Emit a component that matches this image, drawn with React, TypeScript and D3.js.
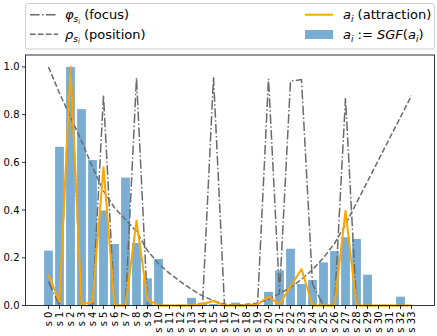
import React from "react";
import * as d3 from "d3";

// categories along the x axis
const labels = [
  "s 0", "s 1", "s 2", "s 3", "s 4", "s 5", "s 6", "s 7", "s 8", "s 9",
  "s 10", "s 11", "s 12", "s 13", "s 14", "s 15", "s 16", "s 17", "s 18", "s 19",
  "s 20", "s 21", "s 22", "s 23", "s 24", "s 25", "s 26", "s 27", "s 28", "s 29",
  "s 30", "s 31", "s 32", "s 33",
];

// a_i := SGF(a_i)  (bars)
const sgf = [
  0.23, 0.665, 1.0, 0.823, 0.61, 0.398, 0.258, 0.536, 0.262, 0.114,
  0.195, 0, 0, 0.032, 0.012, 0.006, 0, 0.012, 0.005, 0,
  0.057, 0.147, 0.238, 0.09, 0.107, 0.181, 0.228, 0.286, 0.279, 0.129,
  0, 0, 0.037, 0,
];

// a_i (attraction)
const attraction = [
  0.13, 0.015, 1.0, 0.005, 0.016, 0.58, 0.0, 0.0, 0.355, 0.025,
  0.0, 0, 0, 0, 0.006, 0.019, 0, 0, 0, 0.005,
  0.037, 0.005, 0.08, 0.153, 0, 0, 0, 0.397, 0, 0,
  0, 0, 0, 0,
];

// phi_{s_i} (focus)
const focus = [
  0.1, 0, 1.0, 0, 0, 0.88, 0, 0, 0.955, 0,
  0, 0, 0, 0, 0, 0.957, 0, 0, 0, 0,
  0.95, 0.05, 0.94, 0.947, 0.09, 0, 0, 0.87, 0, 0,
  0, 0, 0, 0,
];

// rho_{s_i} (position)
const position = [
  1.0, 0.89, 0.79, 0.69, 0.58, 0.48, 0.41, 0.36, 0.31, 0.23,
  0.175, 0.135, 0.1, 0.068, 0.04, 0.02, 0.006, 0.0, 0.005, 0.01,
  0.025, 0.05, 0.075, 0.11, 0.15, 0.2, 0.26, 0.34, 0.43, 0.52,
  0.61, 0.7, 0.79, 0.88,
];

const yTicks = [0.0, 0.2, 0.4, 0.6, 0.8, 1.0];

const W = 437;
const H = 336;
const plot = { left: 25.5, right: 434.5, top: 55, bottom: 305.5 };
const FONT = "DejaVu Sans, sans-serif";
const GRAY = "#6a6a6a";
const ORANGE = "#ffa500";
const BLUE = "#1f77b4";

// legend text sizes
const LF = 13;
const SUB = 9;
const SUBSUB = 6.5;

export default function App() {
  const n = labels.length;
  const barW = 0.8;
  const pad = 0.05 * (n - 1 + barW);
  const x = d3
    .scaleLinear()
    .domain([-barW / 2 - pad, n - 1 + barW / 2 + pad])
    .range([plot.left, plot.right]);
  const y = d3.scaleLinear().domain([0, 1.05]).range([plot.bottom, plot.top]);

  const line = d3
    .line<number>()
    .x((_, i) => x(i))
    .y((d) => y(d));

  const bw = x(barW) - x(0);

  return (
    <svg
      width={W}
      height={H}
      style={{ position: "absolute", left: 0, top: 0, background: "#fff" }}
      fontFamily={FONT}
    >
      {/* bars */}
      {sgf.map((v, i) => (
        <rect
          key={i}
          x={x(i) - bw / 2}
          y={y(v)}
          width={bw}
          height={y(0) - y(v)}
          fill={BLUE}
          fillOpacity={0.6}
        />
      ))}

      {/* lines */}
      <path
        d={line(position) ?? ""}
        fill="none"
        stroke={GRAY}
        strokeWidth={1.5}
        strokeDasharray="5.55 2.4"
      />
      <path
        d={line(focus) ?? ""}
        fill="none"
        stroke={GRAY}
        strokeWidth={1.5}
        strokeDasharray="9.6 2.4 1.5 2.4"
      />
      <path
        d={line(attraction) ?? ""}
        fill="none"
        stroke={ORANGE}
        strokeWidth={2}
        strokeLinejoin="round"
      />

      {/* frame */}
      <rect
        x={plot.left}
        y={plot.top}
        width={plot.right - plot.left}
        height={plot.bottom - plot.top}
        fill="none"
        stroke="#000"
        strokeWidth={0.8}
      />

      {/* y axis */}
      {yTicks.map((t) => (
        <g key={t}>
          <line
            x1={plot.left - 3.5}
            x2={plot.left}
            y1={y(t)}
            y2={y(t)}
            stroke="#000"
            strokeWidth={0.8}
          />
          <text
            x={plot.left - 6}
            y={y(t)}
            fontSize={10}
            textAnchor="end"
            dominantBaseline="central"
          >
            {t.toFixed(1)}
          </text>
        </g>
      ))}

      {/* x axis */}
      {labels.map((l, i) => (
        <g key={l}>
          <line
            x1={x(i)}
            x2={x(i)}
            y1={plot.bottom}
            y2={plot.bottom + 3.5}
            stroke="#000"
            strokeWidth={0.8}
          />
          <text
            transform={`translate(${x(i)},${plot.bottom + 6}) rotate(-90)`}
            fontSize={10}
            textAnchor="end"
            dominantBaseline="central"
          >
            {l}
          </text>
        </g>
      ))}

      {/* legend */}
      <rect
        x={25.5}
        y={3.5}
        width={409}
        height={45.5}
        rx={2.5}
        fill="#fff"
        fillOpacity={0.8}
        stroke="#d0d0d0"
        strokeWidth={1}
      />
      <g fontSize={LF}>
        <line x1={30} x2={58} y1={14.7} y2={14.7} stroke={GRAY} strokeWidth={1.5} strokeDasharray="9.6 2.4 1.5 2.4" />
        <text x={65} y={19.3}>
          <tspan fontStyle="italic">φ</tspan>
          <tspan fontStyle="italic" fontSize={SUB} dy={2.8}>s</tspan>
          <tspan fontStyle="italic" fontSize={SUBSUB} dy={1.5}>i</tspan>
          <tspan dy={-4.3}>{" (focus)"}</tspan>
        </text>

        <line x1={30} x2={58} y1={34.3} y2={34.3} stroke={GRAY} strokeWidth={1.5} strokeDasharray="5.55 2.4" />
        <text x={65} y={38.9}>
          <tspan fontStyle="italic">ρ</tspan>
          <tspan fontStyle="italic" fontSize={SUB} dy={2.8}>s</tspan>
          <tspan fontStyle="italic" fontSize={SUBSUB} dy={1.5}>i</tspan>
          <tspan dy={-4.3}>{" (position)"}</tspan>
        </text>

        <line x1={305} x2={333} y1={14.7} y2={14.7} stroke={ORANGE} strokeWidth={2} />
        <text x={343} y={19.3}>
          <tspan fontStyle="italic">a</tspan>
          <tspan fontStyle="italic" fontSize={SUB} dy={2.8}>i</tspan>
          <tspan dy={-2.8}>{" (attraction)"}</tspan>
        </text>

        <rect x={305} y={30} width={28} height={9} fill={BLUE} fillOpacity={0.6} />
        <text x={343} y={38.9}>
          <tspan fontStyle="italic">a</tspan>
          <tspan fontStyle="italic" fontSize={SUB} dy={2.8}>i</tspan>
          <tspan dy={-2.8}>{" := "}</tspan>
          <tspan fontStyle="italic">SGF</tspan>
          <tspan>(</tspan>
          <tspan fontStyle="italic">a</tspan>
          <tspan fontStyle="italic" fontSize={SUB} dy={2.8}>i</tspan>
          <tspan dy={-2.8}>)</tspan>
        </text>
      </g>
    </svg>
  );
}
